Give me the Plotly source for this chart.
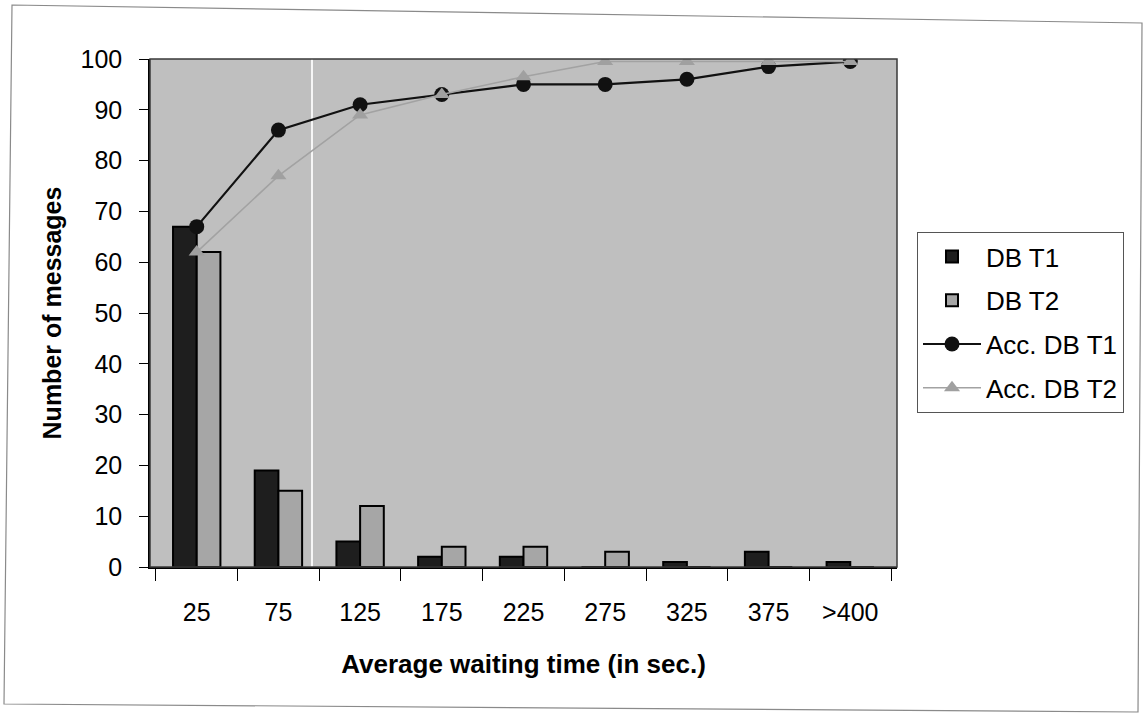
import plotly.graph_objects as go

# Waiting-time buckets (seconds)
categories = ["25", "75", "125", "175", "225", "275", "325", "375", ">400"]

# Number of messages per bucket
db_t1 = [67, 19, 5, 2, 2, 0, 1, 3, 1]
db_t2 = [62, 15, 12, 4, 4, 3, 0, 0, 0]

# Accumulated share of messages
acc_db_t1 = [67, 86, 91, 93, 95, 95, 96, 98.5, 99.5]
acc_db_t2 = [62, 77, 89, 93, 96.5, 99.5, 99.5, 99.5, 99.5]

FONT = "Arial, 'Liberation Sans', sans-serif"

# Plot-area geometry in pixels (used to place page-level decorations)
W, H = 1144, 713
L, R, T, B = 150, 247, 59, 146
PW, PH = W - L - R, H - T - B


def px(x):
    return (x - L) / PW


def py(y):
    return (H - B - y) / PH


fig = go.Figure()

fig.add_trace(go.Bar(
    x=categories, y=db_t1, name="DB T1", legendgroup="a",
    marker=dict(color="#1e1e1e", line=dict(color="#000000", width=2)),
))
fig.add_trace(go.Bar(
    x=categories, y=db_t2, name="DB T2", legendgroup="b",
    marker=dict(color="#a6a6a6", line=dict(color="#000000", width=2)),
))
fig.add_trace(go.Scatter(
    x=categories, y=acc_db_t1, name="Acc. DB T1", legendgroup="c",
    mode="lines+markers",
    line=dict(color="#111111", width=2.2),
    marker=dict(symbol="circle", size=15, color="#111111"),
))
fig.add_trace(go.Scatter(
    x=categories, y=acc_db_t2, name="Acc. DB T2", legendgroup="d",
    mode="lines+markers",
    line=dict(color="#a2a2a2", width=1.6),
    marker=dict(symbol="triangle-up", size=14, color="#a0a0a0"),
))

# Outer chart frame (slightly skewed, as on the printed page)
frame = "M {},{} L {},{} L {},{} L {},{} Z".format(
    px(12), py(5), px(1142), py(23), px(1138), py(712), px(4), py(704)
)

shapes = [
    dict(type="path", path=frame, xref="paper", yref="paper",
         line=dict(color="#8a8a8a", width=1.2), layer="below"),
    # plot-area border (top/right)
    dict(type="rect", xref="paper", yref="paper", x0=0, x1=1, y0=0, y1=1,
         line=dict(color="#3a3a3a", width=1.5), layer="above"),
    # pale crease line across the plot
    dict(type="line", xref="paper", yref="paper", x0=px(312), x1=px(312),
         y0=0, y1=1, line=dict(color="rgba(255,255,255,0.85)", width=2),
         layer="below"),
]

fig.update_layout(
    width=W, height=H,
    margin=dict(l=L, r=R, t=T, b=B),
    paper_bgcolor="#ffffff",
    plot_bgcolor="#bfbfbf",
    font=dict(family=FONT, size=25, color="#000000"),
    barmode="group",
    bargap=0.42,
    bargroupgap=0,
    shapes=shapes,
    legend=dict(
        x=px(917), y=py(232), xanchor="left", yanchor="top",
        bgcolor="#ffffff", bordercolor="#555555", borderwidth=1,
        font=dict(family=FONT, size=26, color="#000000"),
        tracegroupgap=7, itemwidth=58,
        traceorder="grouped",
    ),
    xaxis=dict(
        type="category",
        showgrid=False,
        showline=True, linecolor="#000000", linewidth=1.5,
        ticks="outside", tickson="boundaries", ticklen=12,
        tickcolor="#000000", tickwidth=1,
        ticklabelstandoff=22,
        tickfont=dict(family=FONT, size=25),
        title=dict(text="<b>Average waiting time (in sec.)</b>",
                   font=dict(family=FONT, size=26), standoff=30),
    ),
    yaxis=dict(
        range=[0, 100], dtick=10,
        showgrid=False, zeroline=False,
        showline=True, linecolor="#000000", linewidth=1.5,
        ticks="outside", ticklen=9, tickcolor="#000000", tickwidth=1,
        ticklabelstandoff=12,
        tickfont=dict(family=FONT, size=25),
        title=dict(text="<b>Number of messages</b>",
                   font=dict(family=FONT, size=25), standoff=12),
    ),
)

fig.write_html("out.html")
